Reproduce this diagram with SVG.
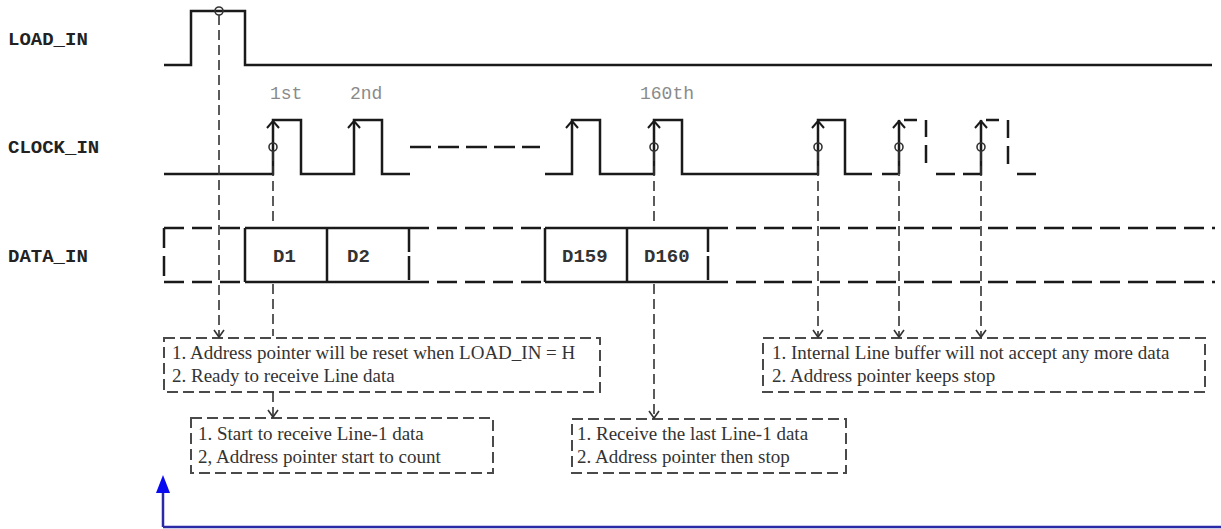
<svg xmlns="http://www.w3.org/2000/svg" width="1221" height="529" viewBox="0 0 1221 529">
<style>
.lbl{font-family:"Liberation Mono","Courier New",monospace;font-weight:bold;font-size:19px;fill:#222}
.ord{font-family:"Liberation Mono","Courier New",monospace;font-size:18px;fill:#8a8a8a}
.dat{font-family:"Liberation Mono","Courier New",monospace;font-weight:bold;font-size:19px;fill:#333}
.note{font-family:"Liberation Serif","Times New Roman",serif;font-size:19px;fill:#333}
.w{fill:none;stroke:#1a1a1a;stroke-width:2.5}
.wd{fill:none;stroke:#1a1a1a;stroke-width:2.5;stroke-dasharray:21 7}
.bus{fill:none;stroke:#1a1a1a;stroke-width:2.5;stroke-dasharray:20 8}
.box{fill:none;stroke:#4a4a4a;stroke-width:2;stroke-dasharray:11 5}
.dl{fill:none;stroke:#333;stroke-width:1.6;stroke-dasharray:10 5}
.ah{fill:none;stroke:#333;stroke-width:1.6}
.ck{fill:none;stroke:#1a1a1a;stroke-width:2}
.cir{fill:none;stroke:#333;stroke-width:1.6}
</style>

<g id="load_in">
<text class="lbl" x="8" y="45">LOAD_IN</text>
<path class="w" d="M164,65 H191 V11 H245 V65 H1212"/>
</g>

<g id="clock_in">
<text class="lbl" x="8" y="153">CLOCK_IN</text>
<text class="ord" x="270" y="99">1st</text>
<text class="ord" x="350" y="99">2nd</text>
<text class="ord" x="640" y="99">160th</text>
<path class="w" d="M164,174 H273 V120 H301 V174 H354 V120 H382 V174 H410"/>
<path class="wd" d="M410,147 H540"/>
<path class="w" d="M545,174 H572 V120 H600 V174 H654 V120 H682 V174 H818 V120 H845 V174 H872"/>
<path class="w" d="M882,174 H898 M899,174 V120 M904,120 H917 M926,120 V137 M926,145 V163 M936,174 H955 M963,174 H981 V120 M986,120 H999 M1008,120 V138 M1008,146 V164 M1017,174 H1036"/>
<path class="ck" d="M267,128 L273,121 L279,128 M348,128 L354,121 L360,128 M566,128 L572,121 L578,128 M648,128 L654,121 L660,128 M812,128 L818,121 L824,128 M893,128 L899,121 L905,128 M975,128 L981,121 L987,128"/>
</g>

<g id="data_in">
<text class="lbl" x="8" y="262">DATA_IN</text>
<path class="bus" d="M164,228 H245 M164,282 H245"/>
<path class="bus" d="M164,228 V282"/>
<path class="w" d="M245,228 H409 M245,282 H409 M245,228 V282 M327,228 V282"/>
<path class="bus" d="M409,228 V282" style="stroke-dasharray:24 4"/>
<path class="bus" d="M409,228 H545 M409,282 H545"/>
<path class="w" d="M545,228 H708 M545,282 H708 M545,228 V282 M627,228 V282"/>
<path class="bus" d="M708,228 V282" style="stroke-dasharray:24 4"/>
<path class="bus" d="M708,228 H1215 M708,282 H1215"/>
<text class="dat" x="273" y="262">D1</text>
<text class="dat" x="347" y="262">D2</text>
<text class="dat" x="562" y="262">D159</text>
<text class="dat" x="644" y="262">D160</text>
</g>

<g id="note_reset">
<rect class="box" x="164" y="338" width="436" height="54"/>
<text class="note" x="172" y="359">1. Address pointer will be reset when LOAD_IN = H</text>
<text class="note" x="172" y="382">2. Ready to receive Line data</text>
</g>

<g id="note_start">
<rect class="box" x="191" y="418" width="302" height="55"/>
<text class="note" x="198" y="440">1. Start to receive Line-1 data</text>
<text class="note" x="198" y="463">2, Address pointer start to count</text>
</g>

<g id="note_last">
<rect class="box" x="572" y="419" width="274" height="54"/>
<text class="note" x="577" y="440">1. Receive the last Line-1 data</text>
<text class="note" x="577" y="463">2. Address pointer then stop</text>
</g>

<g id="note_stop">
<rect class="box" x="763" y="338" width="442" height="54"/>
<text class="note" x="772" y="359">1. Internal Line buffer will not accept any more data</text>
<text class="note" x="772" y="382">2. Address pointer keeps stop</text>
</g>

<g id="connectors">
<path class="dl" d="M219,15 V337"/>
<path class="ah" d="M214,330 L219,337 L224,330"/>
<path class="dl" d="M273,151 V226 M273,284 V336"/>
<path class="dl" d="M273,392 V417"/>
<path class="ah" d="M268,410 L273,417 L278,410"/>
<path class="dl" d="M654,151 V226 M654,284 V418"/>
<path class="ah" d="M649,411 L654,418 L659,411"/>
<path class="dl" d="M818,151 V337"/>
<path class="ah" d="M813,330 L818,337 L823,330"/>
<path class="dl" d="M899,151 V337"/>
<path class="ah" d="M894,330 L899,337 L904,330"/>
<path class="dl" d="M981,151 V337"/>
<path class="ah" d="M976,330 L981,337 L986,330"/>
<circle class="cir" cx="219" cy="11" r="4"/>
<circle class="cir" cx="273" cy="147" r="4"/>
<circle class="cir" cx="654" cy="147" r="4"/>
<circle class="cir" cx="818" cy="147" r="4"/>
<circle class="cir" cx="899" cy="147" r="4"/>
<circle class="cir" cx="981" cy="147" r="4"/>
<path d="M163,527 V490 M163,527 H1221" fill="none" stroke="#2a2aa6" stroke-width="2.5"/>
<path d="M156,493 L163,475 L170,493 Z" fill="#0a0af0"/>
</g>
</svg>
